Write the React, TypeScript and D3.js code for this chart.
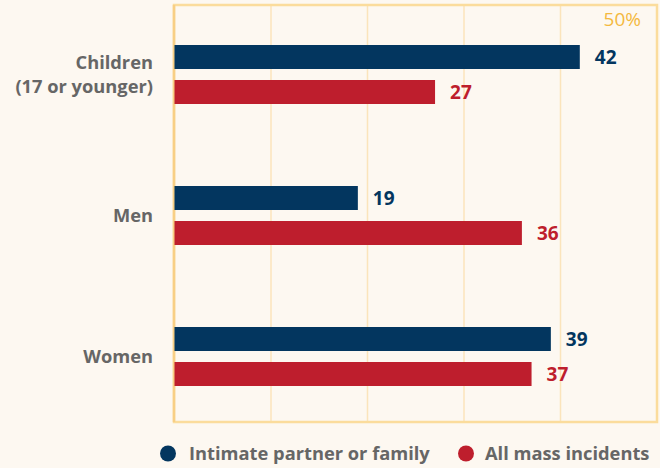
import React from 'react';
import * as d3 from 'd3';

const categories = ['Children\n(17 or younger)', 'Men', 'Women'];
const seriesNames = ['Intimate partner or family', 'All mass incidents'];
const intimateValues = [42, 19, 39];
const allMassValues = [27, 36, 37];
const xTicks = [0, 10, 20, 30, 40, 50];

const colors = ['#03365f', '#be1e2d'];
const FONT = "'Open Sans', 'Noto Sans', sans-serif";

const App = () => {
  const width = 660;
  const height = 468;
  const frame = { left: 174, right: 657, top: 5, bottom: 422 };

  const x = d3.scaleLinear().domain([0, 50]).range([frame.left + 0.5, frame.right]);
  const y = d3.scaleBand().domain(categories).range([45, 45 + 141 * 3]);
  const inner = d3.scaleBand().domain(seriesNames).range([0, 59]).paddingInner(11 / 35);

  const values = [intimateValues, allMassValues];

  return (
    <svg width={width} height={height} style={{ position: 'absolute', left: 0, top: 0 }}>
      <rect width={width} height={height} fill="#fdf8f1" />

      {xTicks.slice(1, -1).map(t => (
        <line key={t} x1={x(t)} x2={x(t)} y1={frame.top} y2={frame.bottom} stroke="#fbe4bb" strokeWidth={1.5} />
      ))}
      <rect x={frame.left} y={frame.top} width={frame.right - frame.left} height={frame.bottom - frame.top}
        fill="none" stroke="#fbdc9c" strokeWidth={2.5} />
      <line x1={frame.left} x2={frame.left} y1={frame.top} y2={frame.bottom} stroke="#f8cf85" strokeWidth={2.5} />

      <text x={x(50) - 16} y={26} textAnchor="end" fontFamily={FONT} fontSize={19} fill="#f4b940">50%</text>

      {categories.map((c, i) => {
        const lines = c.split('\n');
        const cy = (y(c) as number) + 29.5;
        return (
          <g key={c}>
            <text textAnchor="end" fontFamily={FONT} fontWeight={700} fontSize={18.3} fill="#666666">
              {lines.map((l, j) => (
                <tspan key={j} x={153} y={cy + (j - (lines.length - 1) / 2) * 24} dy="0.35em">{l}</tspan>
              ))}
            </text>
            {seriesNames.map((s, k) => {
              const v = values[k][i];
              const by = (y(c) as number) + (inner(s) as number);
              return (
                <g key={s}>
                  <rect x={x(0)} y={by} width={x(v) - x(0)} height={inner.bandwidth()} fill={colors[k]} />
                  <text x={x(v) + 15} y={by + inner.bandwidth() / 2} dy="0.36em" fontFamily={FONT}
                    fontWeight={700} fontSize={19} fill={colors[k]}>{v}</text>
                </g>
              );
            })}
          </g>
        );
      })}

      <g>
        <circle cx={168} cy={453.5} r={8} fill={colors[0]} />
        <text x={189} y={453.5} dy="0.35em" fontFamily={FONT} fontWeight={700} fontSize={18.3} fill="#666666">{seriesNames[0]}</text>
        <circle cx={466} cy={453.5} r={8} fill={colors[1]} />
        <text x={485} y={453.5} dy="0.35em" fontFamily={FONT} fontWeight={700} fontSize={18.3} fill="#666666">{seriesNames[1]}</text>
      </g>
    </svg>
  );
};

export default App;
